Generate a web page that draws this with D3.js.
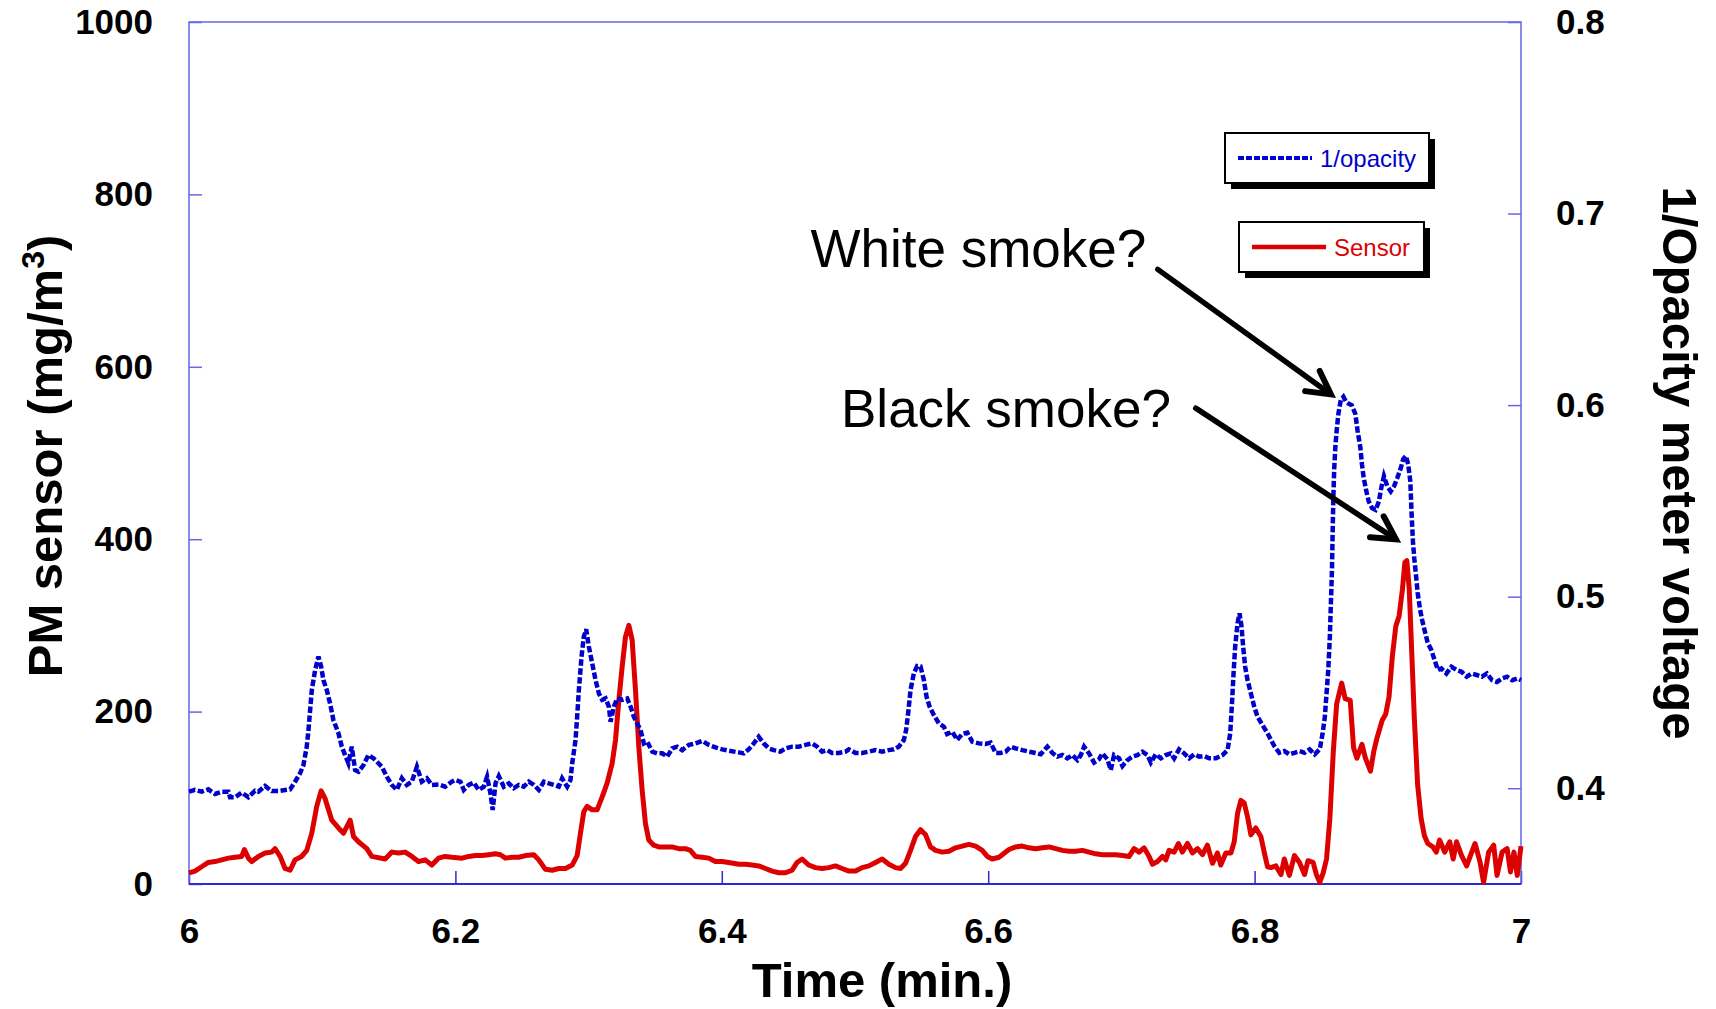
<!DOCTYPE html>
<html>
<head>
<meta charset="utf-8">
<script src="https://cdnjs.cloudflare.com/ajax/libs/d3/7.8.5/d3.min.js"></script>
<style>
  body { margin: 0; background: #fff; }
  svg { display: block; }
</style>
</head>
<body>
<svg id="chart" width="1716" height="1009"></svg>
<script>
// PM sensor (left axis, mg/m3) vs time in minutes
var sensorTime = [
  6.0000, 6.0045, 6.0095, 6.0145, 6.0195, 6.0245, 6.0296, 6.0346, 6.0396, 6.0416, 6.0446, 6.0471, 6.0521, 6.0571, 6.0621, 6.0646,
  6.0684, 6.0721, 6.0759, 6.0796, 6.0846, 6.0884, 6.0922, 6.0959, 6.0992, 6.1022, 6.1072, 6.1122, 6.1160, 6.1210, 6.1235, 6.1272,
  6.1335, 6.1372, 6.1473, 6.1523, 6.1573, 6.1623, 6.1673, 6.1723, 6.1773, 6.1823, 6.1873, 6.1923, 6.1973, 6.2050, 6.2100, 6.2150,
  6.2200, 6.2250, 6.2300, 6.2338, 6.2376, 6.2426, 6.2476, 6.2526, 6.2589, 6.2626, 6.2676, 6.2726, 6.2776, 6.2826, 6.2877, 6.2914,
  6.2939, 6.2964, 6.2989, 6.3027, 6.3064, 6.3102, 6.3139, 6.3177, 6.3202, 6.3227, 6.3252, 6.3277, 6.3302, 6.3327, 6.3352, 6.3377,
  6.3402, 6.3427, 6.3452, 6.3489, 6.3527, 6.3577, 6.3627, 6.3677, 6.3727, 6.3764, 6.3802, 6.3852, 6.3902, 6.3952, 6.4002, 6.4052,
  6.4127, 6.4177, 6.4227, 6.4277, 6.4328, 6.4378, 6.4428, 6.4478, 6.4528, 6.4565, 6.4603, 6.4653, 6.4703, 6.4753, 6.4803, 6.4853,
  6.4903, 6.4954, 6.5004, 6.5054, 6.5104, 6.5154, 6.5204, 6.5254, 6.5304, 6.5342, 6.5379, 6.5417, 6.5454, 6.5492, 6.5530, 6.5567,
  6.5605, 6.5655, 6.5705, 6.5755, 6.5805, 6.5855, 6.5905, 6.5955, 6.5993, 6.6030, 6.6081, 6.6156, 6.6206, 6.6256, 6.6306, 6.6357,
  6.6407, 6.6457, 6.6507, 6.6557, 6.6607, 6.6657, 6.6707, 6.6757, 6.6807, 6.6857, 6.6907, 6.6958, 6.7008, 6.7058, 6.7095, 6.7133,
  6.7170, 6.7208, 6.7233, 6.7271, 6.7308, 6.7333, 6.7358, 6.7396, 6.7428, 6.7458, 6.7496, 6.7534, 6.7571, 6.7609, 6.7646, 6.7684,
  6.7721, 6.7746, 6.7784, 6.7822, 6.7847, 6.7872, 6.7897, 6.7922, 6.7947, 6.7972, 6.8009, 6.8047, 6.8072, 6.8097, 6.8122, 6.8160,
  6.8198, 6.8223, 6.8261, 6.8299, 6.8337, 6.8375, 6.8401, 6.8439, 6.8464, 6.8489, 6.8515, 6.8540, 6.8565, 6.8591, 6.8616, 6.8654,
  6.8680, 6.8718, 6.8743, 6.8768, 6.8806, 6.8832, 6.8870, 6.8895, 6.8920, 6.8958, 6.8984, 6.9009, 6.9034, 6.9060, 6.9085, 6.9110,
  6.9128, 6.9143, 6.9161, 6.9179, 6.9199, 6.9224, 6.9250, 6.9275, 6.9300, 6.9338, 6.9364, 6.9389, 6.9427, 6.9465, 6.9491, 6.9516,
  6.9554, 6.9592, 6.9630, 6.9655, 6.9693, 6.9719, 6.9757, 6.9795, 6.9820, 6.9858, 6.9896, 6.9921, 6.9947, 6.9972, 7.0000
];
var sensorValue = [
  13, 15, 20, 25, 26, 28, 30, 31, 32, 40, 30, 26, 32, 36, 37, 41,
  32, 18, 16, 28, 32, 39, 59, 90, 108, 99, 74, 65, 59, 74, 55, 49,
  41, 32, 29, 37, 36, 37, 32, 26, 28, 22, 30, 32, 31, 30, 32, 33,
  33, 34, 35, 34, 30, 31, 31, 33, 34, 28, 17, 16, 18, 18, 22, 33,
  59, 84, 90, 86, 86, 101, 117, 140, 167, 213, 252, 287, 300, 283, 225, 159,
  109, 70, 51, 45, 43, 43, 43, 41, 41, 39, 32, 31, 30, 26, 26, 25,
  23, 23, 22, 21, 18, 15, 13, 13, 16, 25, 29, 22, 19, 18, 19, 21,
  18, 15, 15, 19, 21, 25, 29, 23, 19, 18, 24, 39, 55, 63, 57, 43,
  39, 37, 38, 42, 44, 46, 44, 39, 32, 29, 31, 40, 43, 44, 42, 41,
  42, 43, 41, 39, 38, 38, 39, 37, 35, 34, 34, 34, 33, 32, 41, 37,
  42, 32, 23, 26, 32, 28, 39, 37, 47, 37, 47, 36, 41, 34, 45, 24,
  36, 22, 36, 36, 49, 82, 97, 94, 78, 57, 65, 55, 37, 20, 19, 21,
  11, 29, 10, 33, 25, 11, 27, 25, 11, 2, 13, 29, 76, 154, 209, 233,
  215, 213, 158, 146, 162, 146, 131, 154, 170, 190, 197, 217, 264, 299, 311, 342,
  373, 375, 342, 272, 193, 115, 76, 56, 47, 43, 37, 51, 37, 49, 29, 49,
  33, 21, 37, 47, 25, 2, 37, 45, 10, 37, 41, 14, 37, 10, 44
];

// 1/opacity meter voltage (right axis) vs time in minutes
var opacityTime = [
  6.0000, 6.0045, 6.0095, 6.0145, 6.0195, 6.0245, 6.0296, 6.0308, 6.0346, 6.0396, 6.0446, 6.0496, 6.0521, 6.0571, 6.0621, 6.0671,
  6.0721, 6.0759, 6.0796, 6.0834, 6.0859, 6.0884, 6.0897, 6.0922, 6.0947, 6.0972, 6.0992, 6.1009, 6.1034, 6.1059, 6.1084, 6.1122,
  6.1147, 6.1172, 6.1197, 6.1222, 6.1247, 6.1272, 6.1310, 6.1347, 6.1385, 6.1410, 6.1448, 6.1485, 6.1523, 6.1560, 6.1598, 6.1635,
  6.1673, 6.1711, 6.1748, 6.1786, 6.1823, 6.1873, 6.1923, 6.1973, 6.2000, 6.2038, 6.2063, 6.2100, 6.2138, 6.2175, 6.2213, 6.2238,
  6.2263, 6.2280, 6.2301, 6.2326, 6.2363, 6.2401, 6.2438, 6.2476, 6.2513, 6.2551, 6.2589, 6.2626, 6.2664, 6.2701, 6.2739, 6.2776,
  6.2801, 6.2839, 6.2864, 6.2877, 6.2902, 6.2914, 6.2927, 6.2947, 6.2964, 6.2982, 6.3002, 6.3027, 6.3052, 6.3077, 6.3102, 6.3127,
  6.3152, 6.3165, 6.3190, 6.3215, 6.3252, 6.3290, 6.3315, 6.3340, 6.3365, 6.3390, 6.3415, 6.3440, 6.3478, 6.3515, 6.3553, 6.3590,
  6.3628, 6.3665, 6.3703, 6.3753, 6.3803, 6.3853, 6.3903, 6.3953, 6.4003, 6.4053, 6.4127, 6.4165, 6.4202, 6.4240, 6.4277, 6.4315,
  6.4353, 6.4390, 6.4440, 6.4478, 6.4528, 6.4578, 6.4628, 6.4678, 6.4716, 6.4753, 6.4791, 6.4828, 6.4878, 6.4929, 6.4954, 6.5004,
  6.5054, 6.5104, 6.5154, 6.5204, 6.5254, 6.5292, 6.5329, 6.5367, 6.5384, 6.5399, 6.5417, 6.5442, 6.5467, 6.5492, 6.5517, 6.5537,
  6.5560, 6.5592, 6.5630, 6.5667, 6.5692, 6.5730, 6.5767, 6.5805, 6.5843, 6.5880, 6.5930, 6.5980, 6.6018, 6.6056, 6.6093, 6.6131,
  6.6169, 6.6206, 6.6256, 6.6306, 6.6357, 6.6394, 6.6444, 6.6482, 6.6519, 6.6557, 6.6594, 6.6632, 6.6670, 6.6695, 6.6720, 6.6757,
  6.6795, 6.6832, 6.6857, 6.6895, 6.6920, 6.6945, 6.6983, 6.7008, 6.7045, 6.7083, 6.7120, 6.7158, 6.7196, 6.7221, 6.7258, 6.7296,
  6.7333, 6.7371, 6.7396, 6.7433, 6.7471, 6.7509, 6.7546, 6.7584, 6.7621, 6.7659, 6.7709, 6.7759, 6.7797, 6.7817, 6.7829, 6.7842,
  6.7854, 6.7872, 6.7887, 6.7902, 6.7914, 6.7929, 6.7947, 6.7972, 6.7997, 6.8022, 6.8059, 6.8097, 6.8147, 6.8185, 6.8223, 6.8261,
  6.8299, 6.8337, 6.8375, 6.8413, 6.8451, 6.8489, 6.8510, 6.8527, 6.8540, 6.8553, 6.8565, 6.8573, 6.8581, 6.8586, 6.8591, 6.8598,
  6.8606, 6.8616, 6.8629, 6.8647, 6.8667, 6.8687, 6.8705, 6.8730, 6.8756, 6.8773, 6.8794, 6.8806, 6.8819, 6.8839, 6.8857, 6.8882,
  6.8908, 6.8933, 6.8951, 6.8971, 6.8996, 6.9022, 6.9047, 6.9072, 6.9098, 6.9115, 6.9136, 6.9153, 6.9169, 6.9179, 6.9189, 6.9199,
  6.9212, 6.9224, 6.9242, 6.9257, 6.9275, 6.9300, 6.9326, 6.9351, 6.9376, 6.9402, 6.9440, 6.9478, 6.9516, 6.9554, 6.9592, 6.9630,
  6.9668, 6.9706, 6.9744, 6.9782, 6.9820, 6.9858, 6.9896, 6.9934, 6.9972, 7.0000
];
var opacityValue = [
  .3982, .3991, .3982, .3994, .3970, .3982, .3982, .3953, .3953, .3977, .3953, .3987, .3982, .4012, .3985, .3985,
  .3991, .3994, .4034, .4078, .4121, .4217, .4304, .4513, .4617, .4687, .4635, .4565, .4513, .4443, .4356, .4287,
  .4217, .4173, .4130, .4217, .4095, .4086, .4121, .4173, .4156, .4139, .4112, .4060, .4017, .3991, .4052, .4017,
  .4034, .4112, .4034, .4052, .4017, .4020, .4008, .4034, .4043, .4034, .3991, .4017, .4029, .3991, .4008, .4060,
  .3974, .3886, .4025, .4063, .4008, .4025, .4000, .4017, .4008, .4034, .4017, .3991, .4034, .4025, .4017, .4008,
  .4052, .4008, .4043, .4130, .4252, .4373, .4513, .4687, .4791, .4830, .4739, .4652, .4565, .4495, .4461, .4469,
  .4426, .4347, .4426, .4469, .4461, .4469, .4426, .4373, .4338, .4304, .4234, .4243, .4191, .4182, .4182, .4165,
  .4208, .4217, .4199, .4226, .4234, .4247, .4226, .4213, .4203, .4196, .4187, .4182, .4203, .4234, .4269, .4234,
  .4208, .4199, .4191, .4208, .4217, .4217, .4226, .4234, .4217, .4191, .4199, .4184, .4184, .4191, .4203, .4184,
  .4184, .4191, .4199, .4191, .4199, .4203, .4217, .4252, .4304, .4391, .4513, .4600, .4638, .4635, .4565, .4478,
  .4426, .4382, .4338, .4321, .4283, .4295, .4252, .4283, .4290, .4243, .4234, .4231, .4238, .4184, .4184, .4191,
  .4217, .4208, .4199, .4191, .4184, .4177, .4217, .4184, .4165, .4173, .4156, .4173, .4147, .4173, .4217, .4182,
  .4134, .4151, .4182, .4151, .4095, .4173, .4156, .4116, .4147, .4165, .4173, .4191, .4173, .4134, .4177, .4156,
  .4173, .4182, .4156, .4203, .4182, .4156, .4177, .4165, .4168, .4156, .4156, .4173, .4199, .4287, .4426, .4600,
  .4739, .4861, .4913, .4843, .4739, .4635, .4565, .4495, .4426, .4373, .4330, .4287, .4221, .4185, .4194, .4177,
  .4185, .4194, .4185, .4203, .4177, .4203, .4283, .4370, .4493, .4617, .4793, .4969, .5145, .5339, .5515, .5673,
  .5779, .5867, .5955, .6026, .6043, .6017, .6008, .5999, .5955, .5867, .5779, .5691, .5621, .5550, .5497, .5462,
  .5453, .5497, .5568, .5629, .5577, .5550, .5577, .5621, .5673, .5717, .5735, .5691, .5603, .5427, .5286, .5198,
  .5110, .5022, .4934, .4881, .4828, .4758, .4723, .4670, .4617, .4625, .4599, .4634, .4617, .4608, .4582, .4599,
  .4591, .4582, .4599, .4564, .4555, .4573, .4582, .4564, .4573, .4564
];

var xTicks = [6, 6.2, 6.4, 6.6, 6.8, 7];
var leftTicks = [0, 200, 400, 600, 800, 1000];
var rightTicks = [0.4, 0.5, 0.6, 0.7, 0.8];

// annotation text + arrows, in time / left-axis units
var noteLabels = ['White smoke?', 'Black smoke?'];
var noteTextAt = [[6.4666, 716], [6.4895, 530]];
var noteArrowFrom = [[6.7273, 713], [6.7558, 552]];
var noteArrowTo = [[6.8573, 568], [6.9061, 400]];

var FONT = '"Liberation Sans", Arial, Helvetica, sans-serif';
var BLUE = '#0000cc';
var RED = '#dd0000';
var FRAME = '#6666e6';

var box = { left: 189, right: 1521, top: 22, bottom: 884 };

var svg = d3.select('#chart');
svg.append('rect').attr('width', 1716).attr('height', 1009).attr('fill', '#fff');

var x = d3.scaleLinear().domain([6, 7]).range([box.left, box.right]);
var yL = d3.scaleLinear().domain([0, 1000]).range([box.bottom, box.top]);
var yR = d3.scaleLinear().domain([0.35, 0.8]).range([box.bottom, box.top]);

// axes: ticks point into the plot
function styleAxis(g, tickColor) {
    g.select('.domain').remove();
    g.selectAll('.tick line').attr('stroke', tickColor).attr('stroke-width', 1.5);
    g.selectAll('.tick text')
        .attr('fill', '#000')
        .style('font-family', FONT)
        .style('font-weight', 'bold')
        .style('font-size', '35px');
}

svg.append('g')
    .attr('transform', 'translate(0,' + box.bottom + ')')
    .call(d3.axisBottom(x).tickValues(xTicks).tickSize(-13).tickPadding(34).tickFormat(d3.format('~g')))
    .call(styleAxis, '#2b2bd0');

svg.append('g')
    .attr('transform', 'translate(' + box.left + ',0)')
    .call(d3.axisLeft(yL).tickValues(leftTicks).tickSize(-13).tickPadding(36).tickFormat(d3.format('~g')))
    .call(styleAxis, FRAME);

svg.append('g')
    .attr('transform', 'translate(' + box.right + ',0)')
    .call(d3.axisRight(yR).tickValues(rightTicks).tickSize(-13).tickPadding(35).tickFormat(d3.format('.1f')))
    .call(styleAxis, FRAME);

// plot frame
svg.append('rect')
    .attr('x', box.left).attr('y', box.top)
    .attr('width', box.right - box.left).attr('height', box.bottom - box.top)
    .attr('fill', 'none').attr('stroke', FRAME).attr('stroke-width', 1.5);
svg.append('line')
    .attr('x1', box.left).attr('x2', box.right)
    .attr('y1', box.bottom).attr('y2', box.bottom)
    .attr('stroke', '#2b2bd0').attr('stroke-width', 2);

// series
var sensorLine = d3.line()
    .x(function (d, i) { return x(sensorTime[i]); })
    .y(function (d) { return yL(d); });
var opacityLine = d3.line()
    .x(function (d, i) { return x(opacityTime[i]); })
    .y(function (d) { return yR(d); });

svg.append('path')
    .datum(sensorValue)
    .attr('d', sensorLine)
    .attr('fill', 'none').attr('stroke', RED)
    .attr('stroke-width', 5).attr('stroke-linejoin', 'round');

svg.append('path')
    .datum(opacityValue)
    .attr('d', opacityLine)
    .attr('fill', 'none').attr('stroke', BLUE)
    .attr('stroke-width', 4.5).attr('stroke-dasharray', '6.5,2.5');

// axis titles
svg.append('text')
    .attr('x', (box.left + box.right) / 2 + 27).attr('y', 997)
    .attr('text-anchor', 'middle')
    .style('font-family', FONT).style('font-weight', 'bold').style('font-size', '49px')
    .text('Time (min.)');

var leftTitle = svg.append('text')
    .attr('transform', 'translate(62,' + 456 + ') rotate(-90)')
    .attr('text-anchor', 'middle')
    .style('font-family', FONT).style('font-weight', 'bold').style('font-size', '49px');
leftTitle.append('tspan').text('PM sensor (mg/m');
leftTitle.append('tspan').attr('dy', -18).style('font-size', '32px').text('3');
leftTitle.append('tspan').attr('dy', 18).text(')');

svg.append('text')
    .attr('transform', 'translate(1663,' + 463 + ') rotate(90)')
    .attr('text-anchor', 'middle')
    .style('font-family', FONT).style('font-weight', 'bold').style('font-size', '49px')
    .text('1/Opacity meter voltage');

// legend boxes with drop shadow
function legendBox(bx, by, w, h, label, color, dash, width) {
    var g = svg.append('g');
    g.append('rect').attr('x', bx + 6).attr('y', by + 6).attr('width', w).attr('height', h).attr('fill', '#000');
    g.append('rect').attr('x', bx).attr('y', by).attr('width', w).attr('height', h)
        .attr('fill', '#fff').attr('stroke', '#000').attr('stroke-width', 2);
    g.append('line')
        .attr('x1', bx + 13).attr('x2', bx + 87).attr('y1', by + h / 2).attr('y2', by + h / 2)
        .attr('stroke', color).attr('stroke-width', width).attr('stroke-dasharray', dash);
    g.append('text')
        .attr('x', bx + 95).attr('y', by + h / 2 + 9)
        .attr('fill', color)
        .style('font-family', FONT).style('font-size', '24px')
        .text(label);
}
legendBox(1225, 133, 204, 50, '1/opacity', BLUE, '6,2', 4);
legendBox(1239, 222, 185, 50, 'Sensor', RED, null, 4.5);

// annotations
noteLabels.forEach(function (label, i) {
    svg.append('text')
        .attr('x', x(noteTextAt[i][0])).attr('y', yL(noteTextAt[i][1]))
        .style('font-family', FONT).style('font-size', '53px')
        .text(label);

    var x1 = x(noteArrowFrom[i][0]), y1 = yL(noteArrowFrom[i][1]);
    var x2 = x(noteArrowTo[i][0]), y2 = yL(noteArrowTo[i][1]);
    var ang = Math.atan2(y2 - y1, x2 - x1);
    var len = 26, spread = 0.5;
    var p1 = [x2 - len * Math.cos(ang - spread), y2 - len * Math.sin(ang - spread)];
    var p2 = [x2 - len * Math.cos(ang + spread), y2 - len * Math.sin(ang + spread)];
    svg.append('line')
        .attr('x1', x1).attr('y1', y1).attr('x2', x2 - 2 * Math.cos(ang)).attr('y2', y2 - 2 * Math.sin(ang))
        .attr('stroke', '#000').attr('stroke-width', 5.5).attr('stroke-linecap', 'round');
    svg.append('path')
        .attr('d', 'M' + p1 + 'L' + [x2, y2] + 'L' + p2)
        .attr('fill', 'none').attr('stroke', '#000').attr('stroke-width', 6)
        .attr('stroke-linecap', 'round').attr('stroke-linejoin', 'miter');
});
</script>
</body>
</html>
